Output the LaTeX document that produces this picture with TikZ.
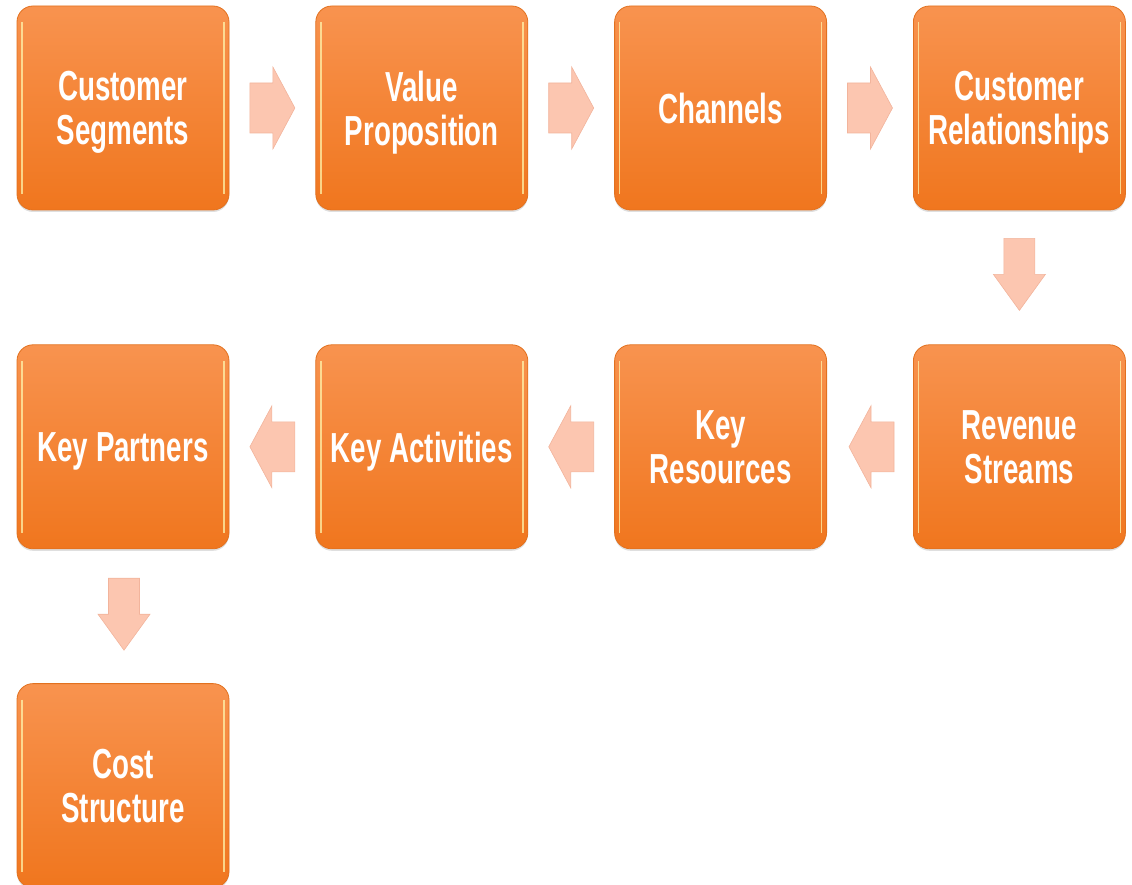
\documentclass[tikz,border=0pt]{standalone}
\usepackage{fontspec}
\setmainfont{Liberation Sans}[FakeStretch=0.66]
\usepackage{tikz}
\usetikzlibrary{positioning,calc,shadows}

\definecolor{boxtop}{HTML}{F8934F}
\definecolor{boxbot}{HTML}{F0761E}
\definecolor{boxline}{HTML}{E2711F}
\definecolor{arrowfill}{HTML}{FCC6B0}
\definecolor{arrowline}{HTML}{F2B49C}

\tikzset{
  canvas/.style={rounded corners=16pt, top color=boxtop, bottom color=boxbot,
    draw=boxline, line width=0.8pt, text=white, align=center,
    minimum width=212pt, minimum height=204pt, inner sep=0pt, text depth=0pt,
    font=\fontsize{42pt}{44pt}\selectfont\bfseries,
    drop shadow={shadow xshift=0pt, shadow yshift=-2pt, opacity=0.25},
    path picture={
      \draw[white!70!yellow, line width=1.6pt, opacity=0.7]
        ($(path picture bounding box.north west)+(5pt,-16pt)$) --
        ($(path picture bounding box.south west)+(5pt,16pt)$)
        ($(path picture bounding box.north east)+(-5pt,-16pt)$) --
        ($(path picture bounding box.south east)+(-5pt,16pt)$);
    }},
  % short fat arrow between boxes in a row
  sidearrow/.pic={
    \filldraw[fill=arrowfill, draw=arrowline, line width=0.6pt]
      (-22.5pt,-25pt) -- (0.5pt,-25pt) -- (0.5pt,-41pt) -- (22.5pt,0pt)
      -- (0.5pt,41pt) -- (0.5pt,25pt) -- (-22.5pt,25pt) -- cycle;
  },
  % longer arrow from one row down to the next
  downarrow/.pic={
    \filldraw[fill=arrowfill, draw=arrowline, line width=0.6pt]
      (-15.5pt,36pt) -- (15.5pt,36pt) -- (15.5pt,0pt) -- (26pt,0pt)
      -- (0pt,-36pt) -- (-26pt,0pt) -- (-15.5pt,0pt) -- cycle;
  }
}

\begin{document}
\begin{tikzpicture}
\useasboundingbox (0pt,0pt) rectangle (1132pt,-885pt);

% first row, left to right
\node[canvas] (cs) at (123pt,-108pt) {Customer\\Segments};
\node[canvas, right=86pt of cs] (vp) {Value\\Proposition};
\node[canvas, right=86pt of vp] (ch) {Channels};
\node[canvas, right=86pt of ch] (cr) {Customer\\Relationships};

% second row, right to left
\node[canvas, below=134pt of cr] (rs) {Revenue\\Streams};
\node[canvas, left=86pt of rs] (kr) {Key\\Resources};
\node[canvas, left=86pt of kr] (ka) {Key Activities};
\node[canvas, left=86pt of ka] (kp) {Key Partners};

% last one
\node[canvas, below=134pt of kp] (cost) {Cost\\Structure};

% arrows
\pic at ($(cs.east)!0.5!(vp.west)$) {sidearrow};
\pic at ($(vp.east)!0.5!(ch.west)$) {sidearrow};
\pic at ($(ch.east)!0.5!(cr.west)$) {sidearrow};
\pic at ($(cr.south)!0.5!(rs.north)+(0pt,3pt)$) {downarrow};
\pic[rotate=180] at ($(rs.west)!0.5!(kr.east)+(1.5pt,0pt)$) {sidearrow};
\pic[rotate=180] at ($(kr.west)!0.5!(ka.east)$) {sidearrow};
\pic[rotate=180] at ($(ka.west)!0.5!(kp.east)$) {sidearrow};
\pic at ($(kp.south)!0.5!(cost.north)+(1pt,2pt)$) {downarrow};
\end{tikzpicture}
\end{document}
